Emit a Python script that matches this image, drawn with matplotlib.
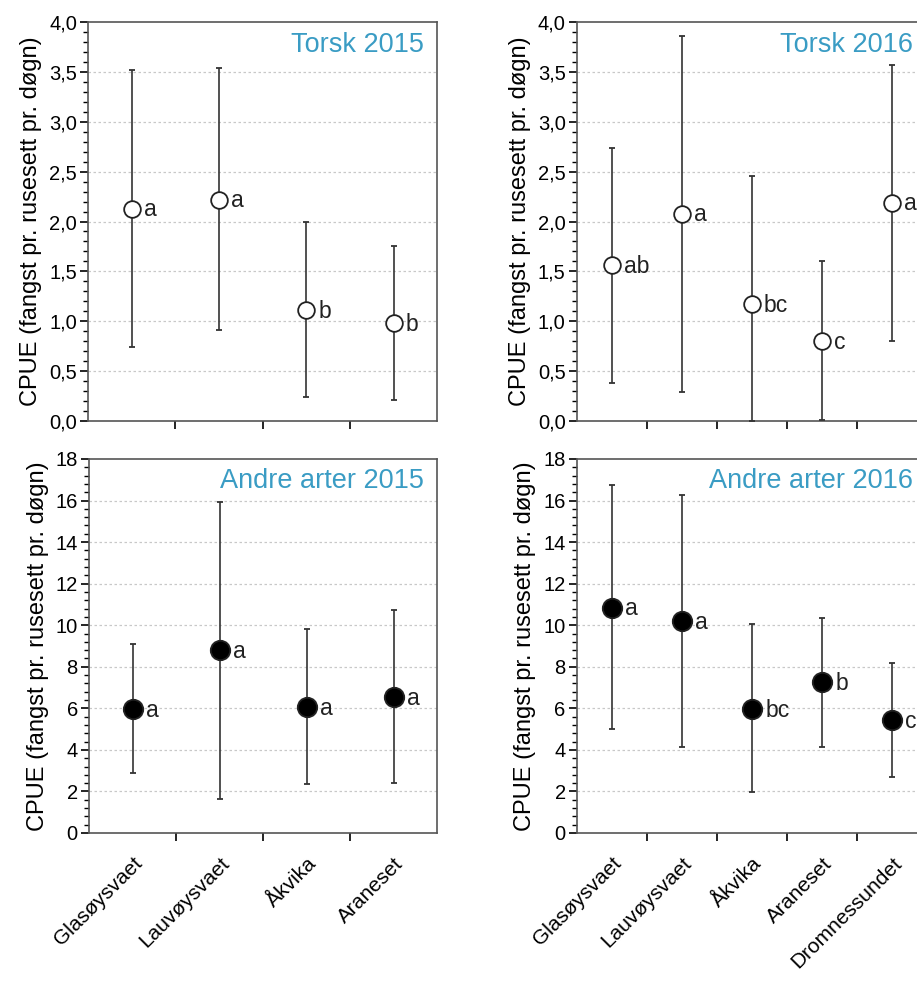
import matplotlib
matplotlib.use("Agg")
import matplotlib.pyplot as plt
import matplotlib.transforms as mtrans
from matplotlib.ticker import MultipleLocator, FuncFormatter

# sites
sites_2015 = ["Glasøysvaet", "Lauvøysvaet", "Åkvika", "Araneset"]
sites_2016 = ["Glasøysvaet", "Lauvøysvaet", "Åkvika", "Araneset", "Dromnessundet"]

# Torsk 2015
torsk15_mean = [2.13, 2.22, 1.11, 0.98]
torsk15_low = [0.74, 0.91, 0.24, 0.21]
torsk15_high = [3.52, 3.54, 2.00, 1.75]
torsk15_grp = ["a", "a", "b", "b"]

# Torsk 2016
torsk16_mean = [1.56, 2.08, 1.17, 0.80, 2.19]
torsk16_low = [0.38, 0.29, 0.00, 0.01, 0.80]
torsk16_high = [2.74, 3.86, 2.46, 1.60, 3.57]
torsk16_grp = ["ab", "a", "bc", "c", "a"]

# Andre arter 2015
andre15_mean = [5.95, 8.80, 6.05, 6.55]
andre15_low = [2.90, 1.65, 2.35, 2.40]
andre15_high = [9.10, 15.95, 9.80, 10.75]
andre15_grp = ["a", "a", "a", "a"]

# Andre arter 2016
andre16_mean = [10.85, 10.20, 5.98, 7.25, 5.42]
andre16_low = [5.00, 4.15, 1.95, 4.15, 2.70]
andre16_high = [16.75, 16.25, 10.05, 10.35, 8.20]
andre16_grp = ["a", "a", "bc", "b", "c"]

ylab = "CPUE (fangst pr. rusesett pr. døgn)"
title_col = "#3a9cc4"
plt.rcParams["font.family"] = ["Liberation Sans", "DejaVu Sans"]

fig = plt.figure(figsize=(9.17, 10), dpi=100)

ax1 = fig.add_axes([0.096, 0.579, 0.381, 0.399])
ax2 = fig.add_axes([0.629, 0.579, 0.382, 0.399])
ax3 = fig.add_axes([0.097, 0.167, 0.380, 0.374])
ax4 = fig.add_axes([0.629, 0.167, 0.382, 0.374])


def panel(ax, sites, mean, low, high, grp, title, filled, ymax, major, minor, fmt, show_x):
    x = list(range(1, len(sites) + 1))
    err = [[m - l for m, l in zip(mean, low)], [h - m for m, h in zip(mean, high)]]
    face = "black" if filled else "white"
    ms = 14 if filled else 12
    ax.errorbar(x, mean, yerr=err, fmt="o", ms=ms, mfc=face, mec="#222222", mew=1.3,
                ecolor="#333333", elinewidth=1.2, capsize=2.5, capthick=1.2, zorder=3)
    off = 9.5 if filled else 8.5
    for xi, m, g in zip(x, mean, grp):
        ax.annotate(g, (xi, m), xytext=(off, -1), textcoords="offset points",
                    ha="left", va="center", fontsize=16.5, color="#222222")
    ax.set_xlim(0.5, len(sites) + 0.5)
    ax.set_ylim(0, ymax)
    ax.yaxis.set_major_locator(MultipleLocator(major))
    ax.yaxis.set_minor_locator(MultipleLocator(minor))
    ax.yaxis.set_major_formatter(FuncFormatter(fmt))
    ax.set_xticks([i + 0.5 for i in range(1, len(sites))])
    ax.set_xticklabels([])
    ax.set_xticks(x, minor=True)
    if show_x:
        labs = ax.set_xticklabels(sites, minor=True, rotation=45, ha="right",
                                  rotation_mode="anchor", fontsize=15)
        shift = mtrans.ScaledTranslation(-3 / 100, 0, fig.dpi_scale_trans)
        for t in labs:
            t.set_transform(t.get_transform() + shift)
    ax.tick_params(axis="x", which="minor", length=0, pad=15)
    ax.tick_params(axis="x", which="major", length=6, width=1.2, direction="out")
    ax.tick_params(axis="y", which="major", length=6, width=1.2, labelsize=14.5, pad=2)
    ax.tick_params(axis="y", which="minor", length=3.5, width=1.0)
    for v in ax.get_yticks():
        if 0 < v < ymax:
            ax.axhline(v, color="#c8c8c8", lw=0.9, ls=(0, (2, 2)), zorder=0)
    for s in ax.spines.values():
        s.set_color("#555555")
        s.set_linewidth(1.2)
    ax.set_ylabel(ylab, fontsize=17, labelpad=5)
    ax.text(0.96, 0.975, title, transform=ax.transAxes, ha="right", va="top",
            fontsize=19.5, color=title_col)


f1 = lambda v, p: f"{v:.1f}".replace(".", ",")
f2 = lambda v, p: f"{v:.0f}"

panel(ax1, sites_2015, torsk15_mean, torsk15_low, torsk15_high, torsk15_grp,
      "Torsk 2015", False, 4.0, 0.5, 0.1, f1, False)
panel(ax2, sites_2016, torsk16_mean, torsk16_low, torsk16_high, torsk16_grp,
      "Torsk 2016", False, 4.0, 0.5, 0.1, f1, False)
panel(ax3, sites_2015, andre15_mean, andre15_low, andre15_high, andre15_grp,
      "Andre arter 2015", True, 18, 2, 0.4, f2, True)
panel(ax4, sites_2016, andre16_mean, andre16_low, andre16_high, andre16_grp,
      "Andre arter 2016", True, 18, 2, 0.4, f2, True)

fig.savefig("out.png", dpi=100)
